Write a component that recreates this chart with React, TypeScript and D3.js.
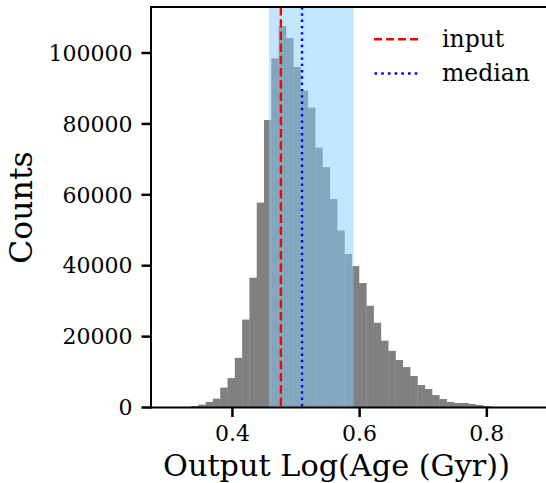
import React from "react";
import * as d3 from "d3";

// ---- data ----
const BIN_START = 0.3234;
const BIN_WIDTH = 0.011483;
const counts = [
  140, 420, 800, 1550, 2500, 5600, 8300, 14000, 24800, 36600,
  57800, 81100, 98500, 107600, 104200, 96050, 89400, 84600, 73300, 67800,
  58800, 49900, 43300, 39900, 35100, 28700, 23900, 18850, 16000, 13400,
  11400, 8900, 6350, 5200, 3500, 2400, 1550, 1270, 1270, 990,
  700, 420, 140,
];
const inputValue = [0.4762];
const medianValue = [0.5095];
const bandRange = [0.4573, 0.5906];
const xTicks = [0.4, 0.6, 0.8];
const yTicks = [0, 20000, 40000, 60000, 80000, 100000];
const legendLabels = ["input", "median"];
const xLabel = "Output Log(Age (Gyr))";
const yLabel = "Counts";

const W = 546;
const H = 483;
const L = 151;
const R = 547;
const T = 7;
const B = 407.5;
const FONT = "'DejaVu Serif', serif";

export default function App() {
  const x = d3.scaleLinear().domain([0.272, 0.8946]).range([L, R]);
  const y = d3.scaleLinear().domain([0, 112980]).range([B, T]);
  const bins = counts.map((c, i) => ({
    x0: BIN_START + i * BIN_WIDTH,
    x1: BIN_START + (i + 1) * BIN_WIDTH,
    c,
  }));
  return (
    <div style={{ position: "absolute", left: 0, top: 0 }}>
      <svg width={W} height={H} style={{ display: "block" }}>
        <rect x={0} y={0} width={W} height={H} fill="#fff" />
        {bins.map((b, i) => (
          <rect
            key={i}
            x={x(b.x0)}
            y={y(b.c)}
            width={x(b.x1) - x(b.x0) + 0.3}
            height={B - y(b.c)}
            fill="#808080"
          />
        ))}
        <rect
          x={x(bandRange[0])}
          y={T}
          width={x(bandRange[1]) - x(bandRange[0])}
          height={B - T}
          fill="rgb(135,206,250)"
          fillOpacity={0.5}
        />
        <line
          x1={x(inputValue[0])}
          x2={x(inputValue[0])}
          y1={T}
          y2={B}
          stroke="red"
          strokeWidth={2.4}
          strokeDasharray="8.5,3.7"
        />
        <line
          x1={x(medianValue[0])}
          x2={x(medianValue[0])}
          y1={T}
          y2={B}
          stroke="blue"
          strokeWidth={2.4}
          strokeDasharray="2.4,3.9"
        />
        {/* spines */}
        <line x1={L} x2={L} y1={T} y2={B + 1} stroke="#000" strokeWidth={2} />
        <line x1={L - 1} x2={W} y1={B} y2={B} stroke="#000" strokeWidth={2} />
        <line x1={L - 1} x2={W} y1={T} y2={T} stroke="#000" strokeWidth={2} />
        {/* x ticks */}
        {xTicks.map((t) => (
          <g key={t}>
            <line x1={x(t)} x2={x(t)} y1={B} y2={B + 9.5} stroke="#000" strokeWidth={2.5} />
            <text
              x={x(t)}
              y={441}
              textAnchor="middle"
              fontFamily={FONT}
              fontSize={22}
              fill="#000"
            >
              {t.toFixed(1)}
            </text>
          </g>
        ))}
        {/* y ticks */}
        {yTicks.map((t) => (
          <g key={t}>
            <line x1={L - 9.5} x2={L} y1={y(t)} y2={y(t)} stroke="#000" strokeWidth={2.5} />
            <text
              x={132.5}
              y={y(t) + 7.7}
              textAnchor="end"
              fontFamily={FONT}
              fontSize={22}
              fill="#000"
            >
              {t}
            </text>
          </g>
        ))}
        <text
          x={336.5}
          y={476}
          textAnchor="middle"
          fontFamily={FONT}
          fontSize={30.3}
          fill="#000"
        >
          {xLabel}
        </text>
        <text
          transform={`translate(32,207.5) rotate(-90)`}
          textAnchor="middle"
          fontFamily={FONT}
          fontSize={31.5}
          fill="#000"
        >
          {yLabel}
        </text>
        {/* legend */}
        <line x1={374} x2={421.5} y1={39.3} y2={39.3} stroke="red" strokeWidth={2.4} strokeDasharray="8,4" />
        <line x1={374.5} x2={421.5} y1={73.5} y2={73.5} stroke="blue" strokeWidth={2.4} strokeDasharray="2.6,4.1" />
        <text x={442} y={46.7} fontFamily={FONT} fontSize={23.5} fill="#000">
          {legendLabels[0]}
        </text>
        <text x={442} y={81} fontFamily={FONT} fontSize={23.5} fill="#000">
          {legendLabels[1]}
        </text>
      </svg>
    </div>
  );
}
